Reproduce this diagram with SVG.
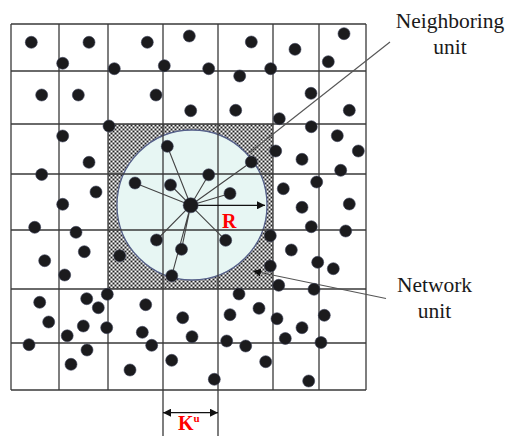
<svg xmlns="http://www.w3.org/2000/svg" width="507" height="436" viewBox="0 0 507 436">
<defs>
<style>
.grid{stroke:#3a3a3a;stroke-width:1.3;fill:none}
.spoke{stroke:#444;stroke-width:1.1;fill:none}
.lead{stroke:#555;stroke-width:1.1;fill:none}
.dot{fill:#1b1b1d;stroke:#3a3f58;stroke-width:0.6}
.lbl{font-family:"Liberation Serif","Times New Roman",serif;font-size:21.5px;fill:#1a1a1a;text-anchor:middle}
.red{font-family:"Liberation Serif","Times New Roman",serif;font-weight:bold;fill:#ff0000}
</style>
<pattern id="dither" width="4" height="4" patternUnits="userSpaceOnUse">
<rect width="4" height="4" fill="#969696"/>
<rect x="1" y="1" width="1" height="1" fill="#ffffff"/>
<rect x="3" y="3" width="1" height="1" fill="#ffffff"/>
<rect x="3" y="1" width="1" height="1" fill="#222222"/>
<rect x="1" y="3" width="1" height="1" fill="#222222"/>
</pattern>
<marker id="ah" viewBox="0 0 10 10" refX="10" refY="5" markerWidth="8" markerHeight="8" markerUnits="userSpaceOnUse" orient="auto-start-reverse">
<path d="M0,0 L10,5 L0,10 z" fill="#111"/>
</marker>
</defs>
<rect width="507" height="436" fill="#ffffff"/>
<g id="neighborhood">
<rect x="108" y="124" width="165" height="165" fill="url(#dither)"/>
<circle cx="192" cy="205" r="75" fill="#e7f6f3" stroke="#56618a" stroke-width="1.3"/>
</g>
<g id="grid" class="grid">
<path d="M11,24V390M59,24V390M108,24V390M163,24V436M218,24V436M273,24V390M319,24V390M366,24V390"/>
<path d="M11,24H366M11,71H366M11,124H366M11,174H366M11,230H366M11,289H366M11,343H366M11,390H366"/>
</g>
<g id="connectors">
<g class="spoke">
<path d="M190.7,205.3L167.3,146.3M190.7,205.3L135,183M190.7,205.3L170.5,185M190.7,205.3L208.7,174.8M190.7,205.3L251.3,162M190.7,205.3L230,193.5M190.7,205.3L225.7,240.3M190.7,205.3L181.5,249.3M190.7,205.3L171.8,275.7M190.7,205.3L156.5,240"/>
</g>
<path d="M190.7,205.3H265" stroke="#111" stroke-width="1.2" marker-end="url(#ah)"/>
<path class="lead" d="M249,153L390,42"/>
<path class="lead" d="M386,298.5L253,271" marker-end="url(#ah)"/>
<path d="M163,412.7H218" stroke="#111" stroke-width="1.2" marker-start="url(#ah)" marker-end="url(#ah)"/>
</g>
<g id="nodes">
<g class="dot">
<circle cx="31.3" cy="42.3" r="6"/><circle cx="89" cy="42.3" r="6"/><circle cx="147.3" cy="42.3" r="6"/><circle cx="189.3" cy="36" r="6"/><circle cx="251.3" cy="42" r="6"/><circle cx="295" cy="49.3" r="6"/><circle cx="344" cy="33.7" r="6"/><circle cx="62.7" cy="63.3" r="6"/><circle cx="114.3" cy="68.7" r="6"/><circle cx="164.3" cy="65.7" r="6"/><circle cx="208.7" cy="68.7" r="6"/><circle cx="270.7" cy="68.7" r="6"/><circle cx="328.3" cy="61.7" r="6"/><circle cx="239.7" cy="76" r="6"/>
<circle cx="41.7" cy="95" r="6"/><circle cx="78.3" cy="95" r="6"/><circle cx="156" cy="95" r="6"/><circle cx="190.7" cy="110.7" r="6"/><circle cx="235.7" cy="110.3" r="6"/><circle cx="311" cy="93.3" r="6"/><circle cx="349.3" cy="110.3" r="6"/><circle cx="279.3" cy="118.7" r="6"/>
<circle cx="109" cy="126" r="6"/><circle cx="62.7" cy="136" r="6"/><circle cx="89" cy="162.3" r="6"/><circle cx="167.3" cy="146.3" r="6"/><circle cx="311.3" cy="126.7" r="6"/><circle cx="337.3" cy="135.7" r="6"/><circle cx="358.3" cy="151" r="6"/><circle cx="275.7" cy="151" r="6"/><circle cx="302" cy="159.3" r="6"/><circle cx="251.3" cy="162" r="6"/><circle cx="340.7" cy="170.3" r="6"/><circle cx="41.7" cy="174.5" r="6"/><circle cx="208.7" cy="174.8" r="6"/>
<circle cx="135" cy="183" r="6"/><circle cx="170.5" cy="185" r="6"/><circle cx="230" cy="193.5" r="6"/><circle cx="96" cy="192" r="6"/><circle cx="62.7" cy="204.3" r="6"/><circle cx="316.7" cy="182" r="6"/><circle cx="283.3" cy="188.7" r="6"/><circle cx="302" cy="207.3" r="6"/><circle cx="349.3" cy="204" r="6"/><circle cx="34.7" cy="227.3" r="6"/><circle cx="76" cy="232.3" r="6"/><circle cx="311.3" cy="226.7" r="6"/><circle cx="345.7" cy="231" r="6"/><circle cx="270.3" cy="235.7" r="6"/>
<circle cx="156.5" cy="240" r="6"/><circle cx="181.5" cy="249.3" r="6"/><circle cx="225.7" cy="240.3" r="6"/><circle cx="119.7" cy="255.7" r="6"/><circle cx="44.7" cy="260.7" r="6"/><circle cx="84.3" cy="251.7" r="6"/><circle cx="64.7" cy="275" r="6"/><circle cx="171.8" cy="275.7" r="6"/><circle cx="291.3" cy="250" r="6"/><circle cx="317.7" cy="262.3" r="6"/><circle cx="333.3" cy="268.7" r="6"/><circle cx="270.3" cy="266" r="6"/><circle cx="278.7" cy="285.3" r="6"/>
<circle cx="314" cy="289.3" r="6"/><circle cx="239" cy="294" r="6"/><circle cx="107.3" cy="294.3" r="6"/><circle cx="86.7" cy="298.7" r="6"/><circle cx="39.7" cy="302.3" r="6"/><circle cx="98.3" cy="307.7" r="6"/><circle cx="145.7" cy="304.7" r="6"/><circle cx="182.7" cy="317.7" r="6"/><circle cx="259" cy="308.3" r="6"/><circle cx="230" cy="314.7" r="6"/><circle cx="277" cy="318.7" r="6"/><circle cx="324.3" cy="315.3" r="6"/><circle cx="48.7" cy="322" r="6"/><circle cx="83.3" cy="326" r="6"/><circle cx="106.7" cy="327.7" r="6"/><circle cx="302" cy="327.7" r="6"/><circle cx="142.3" cy="332.3" r="6"/><circle cx="67.2" cy="335.8" r="6"/><circle cx="192" cy="336.7" r="6"/><circle cx="226.7" cy="341" r="6"/><circle cx="285.3" cy="338.5" r="6"/>
<circle cx="29" cy="344.7" r="6"/><circle cx="151.7" cy="345.3" r="6"/><circle cx="245.7" cy="346" r="6"/><circle cx="321" cy="342.5" r="6"/><circle cx="87" cy="350" r="6"/><circle cx="71" cy="364.3" r="6"/><circle cx="130" cy="370" r="6"/><circle cx="171.7" cy="360.3" r="6"/><circle cx="265.7" cy="361.7" r="6"/><circle cx="214.3" cy="379.3" r="6"/><circle cx="308.7" cy="381" r="6"/>
</g>
<circle id="center-node" class="dot" cx="190.7" cy="205.3" r="7.5"/>
</g>
<g id="labels">
<text class="red" x="222" y="227.5" font-size="20">R</text>
<text class="red" x="178" y="430" font-size="20">K<tspan font-size="11" dy="-8">u</tspan></text>
<text class="lbl" x="450" y="28">Neighboring</text>
<text class="lbl" x="450" y="53.5">unit</text>
<text class="lbl" x="434.5" y="292">Network</text>
<text class="lbl" x="434.5" y="318">unit</text>
</g>
</svg>
